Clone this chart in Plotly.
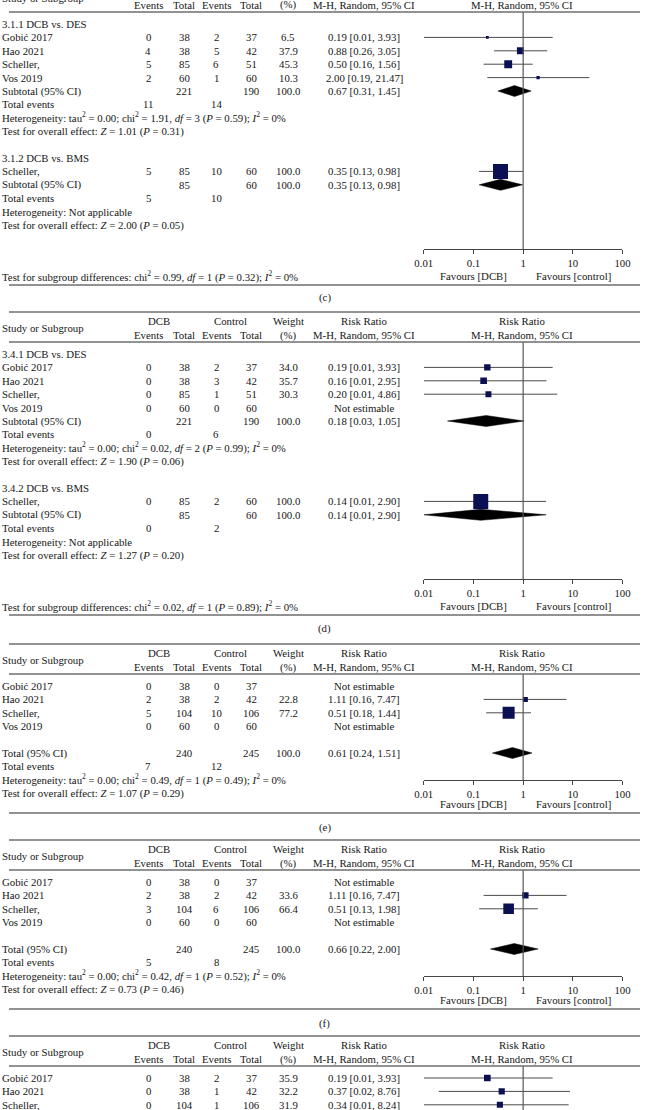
import plotly.graph_objects as go

W, H = 648, 1110
FONT = "Liberation Serif"
FS = 10.8
TXT = "#161616"
NAVY = "#0b1052"
RULE = "#6e6e6e"

# ---------------- data: panel (c) ----------------
c_sg1_label = "3.1.1 DCB vs. DES"
c_sg1_study = ["Gobić 2017", "Hao 2021", "Scheller,", "Vos 2019"]
c_sg1_ev_dcb = [0, 4, 5, 2]
c_sg1_n_dcb = [38, 38, 85, 60]
c_sg1_ev_ctl = [2, 5, 6, 1]
c_sg1_n_ctl = [37, 42, 51, 60]
c_sg1_weight = [6.5, 37.9, 45.3, 10.3]
c_sg1_rr = [0.19, 0.88, 0.50, 2.00]
c_sg1_lo = [0.01, 0.26, 0.16, 0.19]
c_sg1_hi = [3.93, 3.05, 1.56, 21.47]
c_sg1_total_n = [221, 190]
c_sg1_pooled = [0.67, 0.31, 1.45]
c_sg1_events = [11, 14]
c_sg1_het = "Heterogeneity: tau<sup>2</sup> = 0.00; chi<sup>2</sup> = 1.91, <i>df</i> = 3 (<i>P</i> = 0.59); <i>I</i><sup>2</sup> = 0%"
c_sg1_test = "Test for overall effect: <i>Z</i> = 1.01 (<i>P</i> = 0.31)"

c_sg2_label = "3.1.2 DCB vs. BMS"
c_sg2_study = ["Scheller,"]
c_sg2_ev_dcb = [5]
c_sg2_n_dcb = [85]
c_sg2_ev_ctl = [10]
c_sg2_n_ctl = [60]
c_sg2_weight = [100.0]
c_sg2_rr = [0.35]
c_sg2_lo = [0.13]
c_sg2_hi = [0.98]
c_sg2_total_n = [85, 60]
c_sg2_pooled = [0.35, 0.13, 0.98]
c_sg2_events = [5, 10]
c_sg2_het = "Heterogeneity: Not applicable"
c_sg2_test = "Test for overall effect: <i>Z</i> = 2.00 (<i>P</i> = 0.05)"
c_subgroup_diff = "Test for subgroup differences: chi<sup>2</sup> = 0.99, <i>df</i> = 1 (<i>P</i> = 0.32); <i>I</i><sup>2</sup> = 0%"

# ---------------- data: panel (d) ----------------
d_sg1_label = "3.4.1 DCB vs. DES"
d_sg1_study = ["Gobić 2017", "Hao 2021", "Scheller,", "Vos 2019"]
d_sg1_ev_dcb = [0, 0, 0, 0]
d_sg1_n_dcb = [38, 38, 85, 60]
d_sg1_ev_ctl = [2, 3, 1, 0]
d_sg1_n_ctl = [37, 42, 51, 60]
d_sg1_weight = [34.0, 35.7, 30.3, None]
d_sg1_rr = [0.19, 0.16, 0.20, None]
d_sg1_lo = [0.01, 0.01, 0.01, None]
d_sg1_hi = [3.93, 2.95, 4.86, None]
d_sg1_total_n = [221, 190]
d_sg1_pooled = [0.18, 0.03, 1.05]
d_sg1_events = [0, 6]
d_sg1_het = "Heterogeneity: tau<sup>2</sup> = 0.00; chi<sup>2</sup> = 0.02, <i>df</i> = 2 (<i>P</i> = 0.99); <i>I</i><sup>2</sup> = 0%"
d_sg1_test = "Test for overall effect: <i>Z</i> = 1.90 (<i>P</i> = 0.06)"

d_sg2_label = "3.4.2 DCB vs. BMS"
d_sg2_study = ["Scheller,"]
d_sg2_ev_dcb = [0]
d_sg2_n_dcb = [85]
d_sg2_ev_ctl = [2]
d_sg2_n_ctl = [60]
d_sg2_weight = [100.0]
d_sg2_rr = [0.14]
d_sg2_lo = [0.01]
d_sg2_hi = [2.90]
d_sg2_total_n = [85, 60]
d_sg2_pooled = [0.14, 0.01, 2.90]
d_sg2_events = [0, 2]
d_sg2_het = "Heterogeneity: Not applicable"
d_sg2_test = "Test for overall effect: <i>Z</i> = 1.27 (<i>P</i> = 0.20)"
d_subgroup_diff = "Test for subgroup differences: chi<sup>2</sup> = 0.02, <i>df</i> = 1 (<i>P</i> = 0.89); <i>I</i><sup>2</sup> = 0%"

# ---------------- data: panel (e) ----------------
e_study = ["Gobić 2017", "Hao 2021", "Scheller,", "Vos 2019"]
e_ev_dcb = [0, 2, 5, 0]
e_n_dcb = [38, 38, 104, 60]
e_ev_ctl = [0, 2, 10, 0]
e_n_ctl = [37, 42, 106, 60]
e_weight = [None, 22.8, 77.2, None]
e_rr = [None, 1.11, 0.51, None]
e_lo = [None, 0.16, 0.18, None]
e_hi = [None, 7.47, 1.44, None]
e_total_n = [240, 245]
e_pooled = [0.61, 0.24, 1.51]
e_events = [7, 12]
e_het = "Heterogeneity: tau<sup>2</sup> = 0.00; chi<sup>2</sup> = 0.49, <i>df</i> = 1 (<i>P</i> = 0.49); <i>I</i><sup>2</sup> = 0%"
e_test = "Test for overall effect: <i>Z</i> = 1.07 (<i>P</i> = 0.29)"

# ---------------- data: panel (f) ----------------
f_study = ["Gobić 2017", "Hao 2021", "Scheller,", "Vos 2019"]
f_ev_dcb = [0, 2, 3, 0]
f_n_dcb = [38, 38, 104, 60]
f_ev_ctl = [0, 2, 6, 0]
f_n_ctl = [37, 42, 106, 60]
f_weight = [None, 33.6, 66.4, None]
f_rr = [None, 1.11, 0.51, None]
f_lo = [None, 0.16, 0.13, None]
f_hi = [None, 7.47, 1.98, None]
f_total_n = [240, 245]
f_pooled = [0.66, 0.22, 2.00]
f_events = [5, 8]
f_het = "Heterogeneity: tau<sup>2</sup> = 0.00; chi<sup>2</sup> = 0.42, <i>df</i> = 1 (<i>P</i> = 0.52); <i>I</i><sup>2</sup> = 0%"
f_test = "Test for overall effect: <i>Z</i> = 0.73 (<i>P</i> = 0.46)"

# ---------------- data: panel (g) (partly visible) ----------------
g_study = ["Gobić 2017", "Hao 2021", "Scheller,"]
g_ev_dcb = [0, 0, 0]
g_n_dcb = [38, 38, 104]
g_ev_ctl = [2, 1, 1]
g_n_ctl = [37, 42, 106]
g_weight = [35.9, 32.2, 31.9]
g_rr = [0.19, 0.37, 0.34]
g_lo = [0.01, 0.02, 0.01]
g_hi = [3.93, 8.76, 8.24]

tick_vals = [0.01, 0.1, 1, 10, 100]
tick_text = ["0.01", "0.1", "1", "10", "100"]
favours = ["Favours [DCB]", "Favours [control]"]
panel_labels = ["(c)", "(d)", "(e)", "(f)"]

# ---------------- layout helpers ----------------
X_EV1, X_N1, X_EV2, X_N2, X_WT, X_RR = 143, 180, 213, 249, 287, 365
X_FOREST = 527
ROW0, DY = 42, 13.4
AX_X0, AX_X1 = 426, 630
X_LEFT = -8

fig = go.Figure()
annotations = []
shapes = []


def txt(x, y, s, anchor="center", size=FS):
    annotations.append(dict(x=x / W, y=1 - y / H, xref="paper", yref="paper", text=s,
                            showarrow=False, xanchor=anchor, yanchor="middle",
                            align=anchor, borderpad=0,
                            font=dict(family=FONT, size=size, color=TXT)))


def hline(y, w=1.5, color=RULE):
    shapes.append(dict(type="line", xref="paper", yref="paper", x0=0, x1=1,
                       y0=1 - y / H, y1=1 - y / H, line=dict(color=color, width=w)))


def fmt_rr(r, lo, hi):
    if r is None:
        return "Not estimable"
    return f"{r:.2f} [{lo:.2f}, {hi:.2f}]"


def header(T):
    hline(T)
    txt(X_LEFT, T + 16, "Study or Subgroup", "left")
    txt(154, T + 9, "DCB")
    txt(227, T + 9, "Control")
    txt(X_WT, T + 9, "Weight")
    txt(X_RR, T + 9, "Risk Ratio")
    txt(X_FOREST, T + 9, "Risk Ratio")
    for x, s in [(X_EV1, "Events"), (X_N1, "Total"), (X_EV2, "Events"),
                 (X_N2, "Total"), (X_WT, "(%)"), (X_RR, "M-H, Random, 95% CI"),
                 (X_FOREST, "M-H, Random, 95% CI")]:
        txt(x, T + 23, s)
    hline(T + 30)


def study_rows(T, k0, xa, study, ev1, n1, ev2, n2, wt, rr, lo, hi):
    ys, xs, sizes, ep, em = [], [], [], [], []
    for i in range(len(study)):
        y = T + ROW0 + DY * (k0 + i)
        txt(X_LEFT, y, study[i], "left")
        txt(X_EV1, y, str(ev1[i]))
        txt(X_N1, y, str(n1[i]))
        txt(X_EV2, y, str(ev2[i]))
        txt(X_N2, y, str(n2[i]))
        if wt[i] is not None:
            txt(X_WT, y, f"{wt[i]:.1f}")
        txt(X_RR, y, fmt_rr(rr[i], lo[i], hi[i]))
        if rr[i] is not None:
            ys.append(y)
            xs.append(rr[i])
            sizes.append(2 + 13 * wt[i] / 100)
            ep.append(hi[i] - rr[i])
            em.append(rr[i] - lo[i])
    if xs:
        fig.add_trace(go.Scatter(
            x=xs, y=ys, xaxis=xa, yaxis="y", mode="markers",
            marker=dict(symbol="square", size=sizes, color=NAVY, opacity=1,
                        line=dict(width=0)),
            error_x=dict(type="data", symmetric=False, array=ep, arrayminus=em,
                         width=0, thickness=1, color="#4a4a4a"),
            showlegend=False, hoverinfo="skip"))


def pooled(T, k, xa, label, total_n, pool, events, het, test):
    y = T + ROW0 + DY * k
    txt(X_LEFT, y, label, "left")
    txt(X_N1, y, str(total_n[0]))
    txt(X_N2, y, str(total_n[1]))
    txt(X_WT, y, "100.0")
    txt(X_RR, y, fmt_rr(*pool))
    r, lo, hi = pool
    h = 5.5
    fig.add_trace(go.Scatter(
        x=[lo, r, hi, r, lo], y=[y, y - h, y, y + h, y], xaxis=xa, yaxis="y",
        mode="lines", fill="toself", fillcolor="black",
        line=dict(color="black", width=0.5), showlegend=False, hoverinfo="skip"))
    y2 = y + DY
    txt(X_LEFT, y2, "Total events", "left")
    txt(X_EV1, y2, str(events[0]))
    txt(X_EV2, y2, str(events[1]))
    txt(X_LEFT, y + 2 * DY, het, "left")
    txt(X_LEFT, y + 3 * DY, test, "left")


def null_line(T, y_axis, xa):
    fig.add_trace(go.Scatter(x=[1, 1], y=[T + 30, y_axis], xaxis=xa, yaxis="y",
                             mode="lines", line=dict(color="#555555", width=1.2),
                             showlegend=False, hoverinfo="skip"))


axis_positions = {}

# ---------------- panel (c) and (d): subgroup panels ----------------
sub_panels = [
    (-18, "x", [
        (c_sg1_label, c_sg1_study, c_sg1_ev_dcb, c_sg1_n_dcb, c_sg1_ev_ctl, c_sg1_n_ctl,
         c_sg1_weight, c_sg1_rr, c_sg1_lo, c_sg1_hi, c_sg1_total_n, c_sg1_pooled,
         c_sg1_events, c_sg1_het, c_sg1_test),
        (c_sg2_label, c_sg2_study, c_sg2_ev_dcb, c_sg2_n_dcb, c_sg2_ev_ctl, c_sg2_n_ctl,
         c_sg2_weight, c_sg2_rr, c_sg2_lo, c_sg2_hi, c_sg2_total_n, c_sg2_pooled,
         c_sg2_events, c_sg2_het, c_sg2_test)], c_subgroup_diff, panel_labels[0]),
    (312, "x2", [
        (d_sg1_label, d_sg1_study, d_sg1_ev_dcb, d_sg1_n_dcb, d_sg1_ev_ctl, d_sg1_n_ctl,
         d_sg1_weight, d_sg1_rr, d_sg1_lo, d_sg1_hi, d_sg1_total_n, d_sg1_pooled,
         d_sg1_events, d_sg1_het, d_sg1_test),
        (d_sg2_label, d_sg2_study, d_sg2_ev_dcb, d_sg2_n_dcb, d_sg2_ev_ctl, d_sg2_n_ctl,
         d_sg2_weight, d_sg2_rr, d_sg2_lo, d_sg2_hi, d_sg2_total_n, d_sg2_pooled,
         d_sg2_events, d_sg2_het, d_sg2_test)], d_subgroup_diff, panel_labels[1]),
]

for T, xa, groups, diff, plabel in sub_panels:
    header(T)
    k = 0
    for (lab, st, e1, n1, e2, n2, wt, rr, lo, hi, tn, pool, evs, het, test) in groups:
        txt(X_LEFT, T + ROW0 + DY * k, lab, "left")
        study_rows(T, k + 1, xa, st, e1, n1, e2, n2, wt, rr, lo, hi)
        pooled(T, k + 1 + len(st), xa, "Subtotal (95% CI)", tn, pool, evs, het, test)
        k += len(st) + 6
    ax_y = T + 267
    axis_positions[xa] = ax_y
    null_line(T, ax_y, xa)
    txt(X_LEFT, T + 294, diff, "left")
    txt(477, T + 294, favours[0])
    txt(580, T + 294, favours[1])
    hline(T + 303)
    txt(W / 2, T + 316, plabel)

# ---------------- panel (e), (f): single-group panels ----------------
single_panels = [
    (644, "x3", e_study, e_ev_dcb, e_n_dcb, e_ev_ctl, e_n_ctl, e_weight, e_rr, e_lo, e_hi,
     e_total_n, e_pooled, e_events, e_het, e_test, panel_labels[2]),
    (840, "x4", f_study, f_ev_dcb, f_n_dcb, f_ev_ctl, f_n_ctl, f_weight, f_rr, f_lo, f_hi,
     f_total_n, f_pooled, f_events, f_het, f_test, panel_labels[3]),
]
for (T, xa, st, e1, n1, e2, n2, wt, rr, lo, hi, tn, pool, evs, het, test, plabel) in single_panels:
    header(T)
    study_rows(T, 0, xa, st, e1, n1, e2, n2, wt, rr, lo, hi)
    pooled(T, 5, xa, "Total (95% CI)", tn, pool, evs, het, test)
    ax_y = T + 136
    axis_positions[xa] = ax_y
    null_line(T, ax_y, xa)
    txt(477, T + 160, favours[0])
    txt(580, T + 160, favours[1])
    hline(T + 169)
    txt(W / 2, T + 183, plabel)

# panel (g), cut off by the bottom edge
T_g = 1036
header(T_g)
study_rows(T_g, 0, "x5", g_study, g_ev_dcb, g_n_dcb, g_ev_ctl, g_n_ctl, g_weight, g_rr, g_lo, g_hi)
null_line(T_g, H + 20, "x5")

# ---------------- axes ----------------
layout_axes = {}
for name in ["x", "x2", "x3", "x4", "x5"]:
    key = "xaxis" if name == "x" else "xaxis" + name[1:]
    visible = name in axis_positions
    pos = 1 - axis_positions[name] / H if visible else 0
    layout_axes[key] = dict(
        type="log", range=[-2, 2], domain=[AX_X0 / W, AX_X1 / W],
        anchor="free", position=max(0, min(1, pos)),
        showgrid=False, zeroline=False, fixedrange=True,
        showline=visible, linecolor="#444444", linewidth=1,
        ticks="outside" if visible else "", ticklen=4, tickwidth=1, tickcolor="#444444",
        tickvals=tick_vals, ticktext=tick_text, showticklabels=visible,
        tickfont=dict(family=FONT, size=FS, color=TXT))

fig.update_layout(
    width=W, height=H, autosize=False,
    margin=dict(l=0, r=0, t=0, b=0, pad=0),
    paper_bgcolor="white", plot_bgcolor="rgba(0,0,0,0)",
    yaxis=dict(range=[H, 0], domain=[0, 1], visible=False, fixedrange=True),
    annotations=annotations, shapes=shapes,
    **layout_axes)

fig.write_html("out.html", config={"displayModeBar": False},
               post_script="document.body.style.margin='0';document.body.style.overflow='hidden';")
